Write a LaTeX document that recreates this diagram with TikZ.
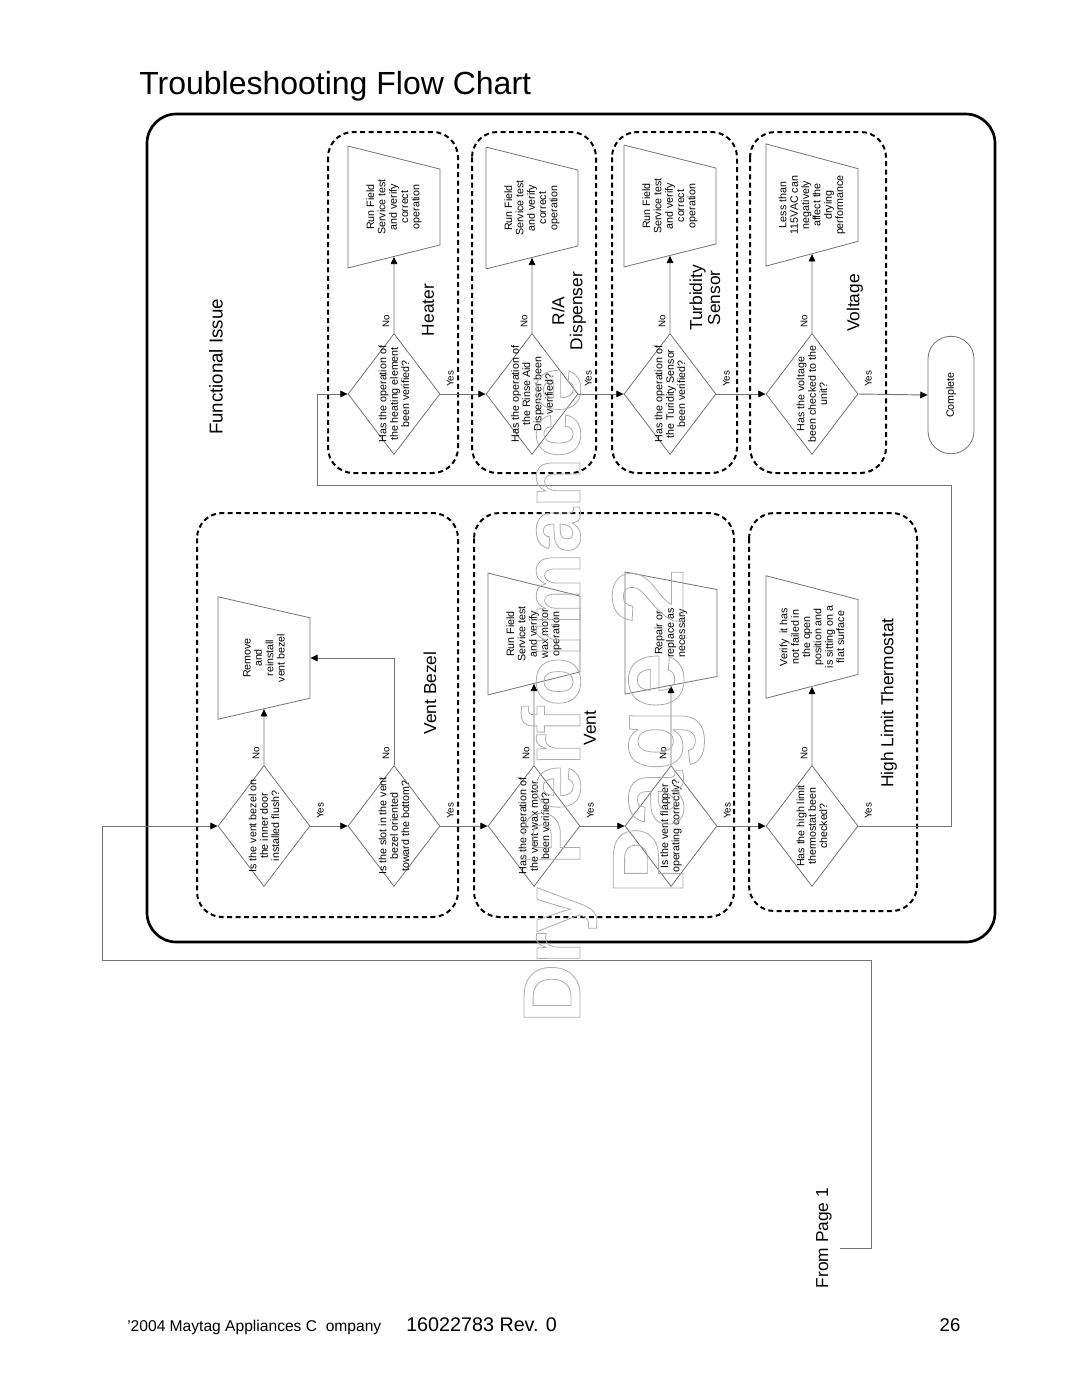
\documentclass[tikz,border=0pt]{standalone}
\usepackage{fontspec}
\setmainfont{Liberation Sans}
\usetikzlibrary{shapes.geometric,arrows.meta,calc}
\definecolor{linecol}{RGB}{115,115,115}
\definecolor{wmcol}{RGB}{175,175,175}
\newcommand\fsShape{\fontsize{8pt}{8.5pt}\selectfont}
\newcommand\fsYN{\fontsize{7.3pt}{8pt}\selectfont}
\newcommand\fsGroup{\fontsize{13pt}{13.5pt}\selectfont}
\newcommand\wmstroke[1]{\special{pdf:literal direct 1 Tr 0.6 w 0.68 0.68 0.68 RG}#1\special{pdf:literal direct 0 Tr}}
\begin{document}
\begin{tikzpicture}[x=0.75pt,y=-0.75pt,
  grp/.style={draw=black,line width=1.5pt,dash pattern=on 3.75pt off 2.6pt,rounded corners=19pt},
  dia/.style={draw=linecol,line width=0.6pt,diamond,minimum width=69pt,minimum height=90.75pt,inner sep=0pt},
  dtext/.style={rotate=90,align=center,font=\fsShape,inner sep=0pt},
  trap/.style={draw=linecol,line width=0.6pt,trapezium,trapezium left angle=107,trapezium right angle=107,
    trapezium stretches=true,minimum width=92pt,minimum height=69pt,inner sep=0pt,rotate=90,align=center,font=\fsShape},
  term/.style={draw=linecol,line width=0.6pt,rounded corners=17pt,minimum width=88pt,minimum height=34.5pt,rotate=90,font=\fsShape},
  yn/.style={rotate=90,font=\fsYN,inner sep=0pt},
  glab/.style={rotate=90,align=center,font=\fsGroup,inner sep=0pt},
  arr/.style={draw=linecol,line width=0.7pt,-{Triangle[length=5.5pt,width=5pt,color=black]}}
]
\useasboundingbox (0,0) rectangle (1080,1397);
\fill[white] (0,0) rectangle (1080,1397);

% title
\node[anchor=base west,inner sep=0pt,font=\fontsize{24pt}{28pt}\selectfont] (title) at (139,94) {Troubleshooting Flow Chart};

% outer frame
\draw[line width=2pt,rounded corners=22pt] (147,114) rectangle (995,942);

% groups
\draw[grp] (328,132) rectangle (458,473);
\draw[grp] (472,132) rectangle (596,473);
\draw[grp] (612,132) rectangle (737,473);
\draw[grp] (750,132) rectangle (886,473);
\draw[grp] (197,513) rectangle (458,917);
\draw[grp] (474,513) rectangle (734,917);
\draw[grp] (749,513) rectangle (917,911);

\node[rotate=90,inner sep=0pt,font=\fontsize{14pt}{16pt}\selectfont] (fi) at (216,367) {Functional Issue};

% ---------- top row ----------
\node[dia] (h1) at (394,394) {};
\node[dtext] (h1t) at (h1) {Has the operation of\\the heating element\\been verified?};
\node[trap] (ht) at (394,207) {Run Field\\Service test\\and verify\\correct\\operation};
\node[glab] (hlab) at (428,310) {Heater};

\node[dia] (r1) at (532,394) {};
\node[dtext] (r1t) at (r1) {Has the operation of\\the Rinse Aid\\Dispenser been\\verified?};
\node[trap] (rt) at (532,208) {Run Field\\Service test\\and verify\\correct\\operation};
\node[glab] (rlab) at (569,311) {R/A\\Dispenser};

\node[dia] (tb1) at (670,394) {};
\node[dtext] (tb1t) at (tb1) {Has the operation of\\the Turidity Sensor\\been verified?};
\node[trap] (tbt) at (670,206) {Run Field\\Service test\\and verify\\correct\\operation};
\node[glab] (tblab) at (705,298) {Turbidity\\Sensor};

\node[dia] (v1) at (812,394) {};
\node[dtext] (v1t) at (v1) {Has the voltage\\been checked to the\\unit?};
\node[trap] (vt) at (812,205) {Less than\\115VAC can\\negatively\\affect the\\drying\\performance};
\node[glab] (vlab) at (855,303) {Voltage};

\node[term] (cp) at (951,395) {Complete};

% ---------- bottom row ----------
\node[dia] (vb1) at (264,826) {};
\node[dtext] (vb1t) at (vb1) {Is the vent bezel on\\the inner door\\installed flush?};
\node[dia] (vb2) at (394,826) {};
\node[dtext] (vb2t) at (vb2) {Is the slot in the vent\\bezel oriented\\toward the bottom?};
\node[trap] (vbt) at (264,658) {Remove\\and\\reinstall\\vent bezel};
\node[glab] (vblab) at (430,693) {Vent Bezel};

\node[dia] (vn1) at (534,826) {};
\node[dtext] (vn1t) at (vn1) {Has the operation of\\the vent wax motor\\been verified?};
\node[trap] (vnt1) at (534,634) {Run Field\\Service test\\and verify\\wax motor\\operation};
\node[dia] (vn2) at (671,826) {};
\node[dtext] (vn2t) at (vn2) {Is the vent flapper\\operating correctly?};
\node[trap] (vnt2) at (671,633) {Repair or\\replace as\\necessary};
\node[glab] (vnlab) at (590,728) {Vent};

\node[dia] (hl) at (812,826) {};
\node[dtext] (hlt1) at (hl) {Has the high limit\\thermostat been\\checked?};
\node[trap] (hlt) at (812,637) {Verify\ \ it has\\not failed in\\the open\\position and\\is sitting on a\\flat surface};
\node[glab] (hllab) at (889,703) {High Limit Thermostat};

% ---------- yes / no labels ----------
\foreach \n in {h1,r1,tb1,v1,vb1,vb2,vn1,vn2,hl}{
  \node[yn] (\n no) at ($(\n.north)+(-8,-12)$) {No};
  \node[yn] (\n yes) at ($(\n.east)+(10,-15)$) {Yes};
}

% ---------- connectors ----------
\draw[arr] (h1.east) -- (r1.west);
\draw[arr] (r1.east) -- (tb1.west);
\draw[arr] (tb1.east) -- (v1.west);
\draw[arr] (v1.east) -- (cp.north);
\draw[arr] (h1.north) -- (ht.west);
\draw[arr] (r1.north) -- (rt.west);
\draw[arr] (tb1.north) -- (tbt.west);
\draw[arr] (v1.north) -- (vt.west);

\draw[arr] (vb1.east) -- (vb2.west);
\draw[arr] (vb2.east) -- (vn1.west);
\draw[arr] (vn1.east) -- (vn2.west);
\draw[arr] (vn2.east) -- (hl.west);
\draw[arr] (vb1.north) -- (vbt.west);
\draw[arr] (vb2.north) |- (vbt.south);
\draw[arr] (vn1.north) -- (vnt1.west);
\draw[arr] (vn2.north) -- (vnt2.west);
\draw[arr] (hl.north) -- (hlt.west);

\coordinate (c1) at (951,485);
\coordinate (c2) at (317,485);
\draw[arr] (hl.east) -| (c1) -- (c2) |- (h1.west);

\coordinate (fp) at (840,1248);
\coordinate (c3) at (871,960);
\coordinate (c4) at (102,960);
\draw[arr] (fp) -| (c3) -- (c4) |- (vb1.west);
\node[rotate=90,inner sep=0pt,font=\fontsize{13pt}{15pt}\selectfont] (fromp) at (824,1238) {From Page 1};

% ---------- footer ----------
\node[anchor=base west,inner sep=0pt,font=\fontsize{11.7pt}{13pt}\selectfont] (ft1) at (127,1331) {'2004 Maytag Appliances C\ \ ompany};
\node[anchor=base west,inner sep=0pt,font=\fontsize{14.8pt}{16pt}\selectfont] (ft2) at (406,1331) {16022783 Rev. 0};
\node[anchor=base,inner sep=0pt,font=\fontsize{13.9pt}{16pt}\selectfont] (ft3) at (950,1331) {26};

% ---------- watermark ----------
\node[rotate=90,anchor=base west,inner sep=0pt,text=wmcol,font=\bfseries\fontsize{61pt}{61pt}\selectfont] (wm1) at (580,1023) {\wmstroke{Dry Performance}};
\node[rotate=90,anchor=base west,inner sep=0pt,text=wmcol,font=\bfseries\fontsize{76pt}{76pt}\selectfont] (wm2) at (683,895) {\wmstroke{Page 2}};
\end{tikzpicture}
\end{document}
